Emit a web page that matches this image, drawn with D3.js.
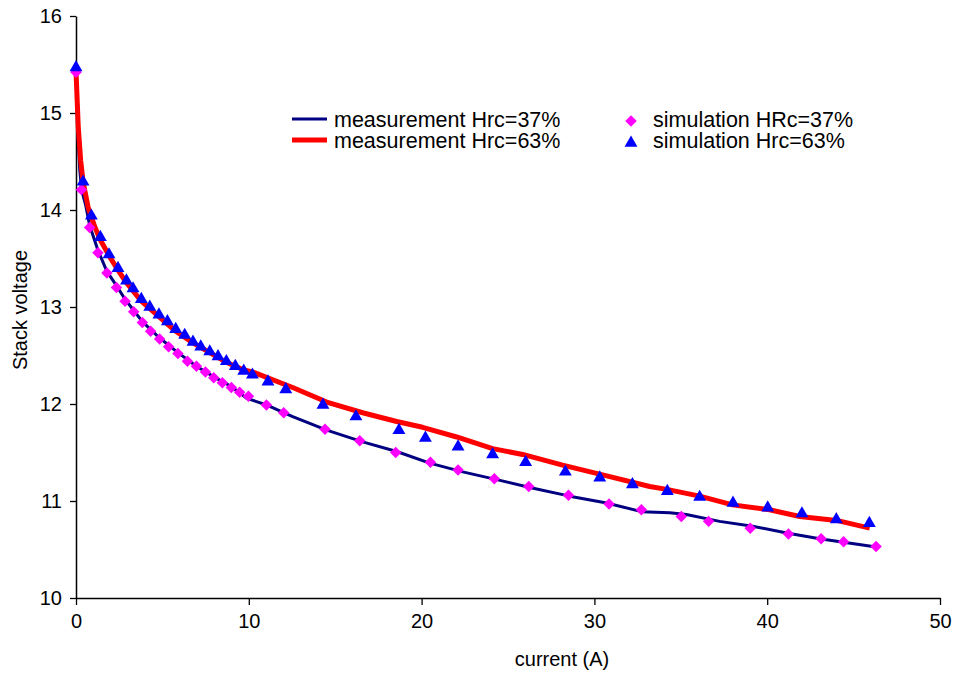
<!DOCTYPE html>
<html>
<head>
<meta charset="utf-8">
<script src="https://cdn.jsdelivr.net/npm/d3@7"></script>
<style>
  body { margin: 0; background: #fff; }
  text { font-family: Arial, "Liberation Sans", sans-serif; fill: #000; }
</style>
</head>
<body>
<svg id="chart" width="958" height="679"></svg>
<script>
'use strict';

//Values: [current (A), stack voltage (V)].
const meas37 = [
	[0, 15.42], [0.1, 14.82], [0.22, 14.41], [0.33, 14.20], [0.56, 14.05], [0.79, 13.84],
	[1.26, 13.59], [1.78, 13.37], [2.34, 13.22], [2.84, 13.08], [3.84, 12.85], [4.84, 12.68],
	[5.90, 12.53], [6.97, 12.39], [7.97, 12.28], [8.99, 12.18], [9.86, 12.06], [11.02, 11.99],
	[12.02, 11.91], [12.54, 11.87], [14.51, 11.73], [16.59, 11.61], [18.56, 11.51], [20.47, 11.39],
	[22.38, 11.30], [24.35, 11.22], [26.26, 11.14], [28.57, 11.05], [30.71, 10.98], [32.72, 10.89],
	[34.36, 10.88], [35.32, 10.86], [37.25, 10.79], [39.16, 10.74], [41.13, 10.67], [43.04, 10.61],
	[46.11, 10.53]
];
const meas63 = [
	[0, 15.43], [0.13, 14.86], [0.27, 14.51], [0.41, 14.29], [0.70, 14.03], [1.08, 13.83],
	[1.41, 13.69], [1.91, 13.53], [2.43, 13.38], [2.92, 13.25], [3.78, 13.06], [4.80, 12.90],
	[5.77, 12.75], [6.77, 12.63], [7.74, 12.53], [8.70, 12.43], [9.71, 12.35], [10.22, 12.33],
	[12.54, 12.17], [14.51, 12.02], [16.59, 11.91], [18.56, 11.82], [20.06, 11.76], [22.03, 11.66],
	[24.11, 11.54], [25.85, 11.48], [28.16, 11.37], [30.48, 11.27], [33.20, 11.15], [34.19, 11.12],
	[36.09, 11.05], [38.00, 10.96], [40.14, 10.91], [41.88, 10.84], [44.02, 10.80], [45.93, 10.72]
];
const sim37 = [
	[0, 15.42], [0.31, 14.21], [0.79, 13.82], [1.27, 13.56], [1.79, 13.35], [2.34, 13.20],
	[2.84, 13.06], [3.34, 12.95], [3.84, 12.84], [4.32, 12.75], [4.84, 12.67], [5.36, 12.59],
	[5.90, 12.52], [6.45, 12.44], [6.97, 12.39], [7.49, 12.33], [7.97, 12.27], [8.47, 12.22],
	[8.99, 12.17], [9.47, 12.12], [9.98, 12.08], [11.02, 11.99], [12.02, 11.91], [14.41, 11.74],
	[16.42, 11.62], [18.50, 11.50], [20.51, 11.40], [22.11, 11.32], [24.21, 11.23], [26.20, 11.15],
	[28.50, 11.06], [30.85, 10.97], [32.72, 10.91], [35.03, 10.84], [36.61, 10.79], [39.02, 10.72],
	[41.23, 10.66], [43.12, 10.61], [44.42, 10.58], [46.30, 10.53]
];
const sim63 = [
	[0, 15.47], [0.41, 14.29], [0.89, 13.94], [1.41, 13.72], [1.91, 13.54], [2.43, 13.40],
	[2.92, 13.27], [3.30, 13.19], [3.78, 13.08], [4.27, 13.00], [4.80, 12.92], [5.29, 12.85],
	[5.77, 12.77], [6.29, 12.71], [6.77, 12.64], [7.22, 12.59], [7.74, 12.54], [8.22, 12.49],
	[8.70, 12.44], [9.22, 12.39], [9.71, 12.34], [10.21, 12.30], [11.11, 12.23], [12.14, 12.15],
	[14.29, 11.99], [16.20, 11.87], [18.69, 11.73], [20.22, 11.65], [22.11, 11.56], [24.11, 11.48],
	[26.02, 11.40], [28.32, 11.30], [30.31, 11.24], [32.20, 11.17], [34.22, 11.10], [36.09, 11.04],
	[38.02, 10.98], [40.03, 10.93], [42.01, 10.87], [44.00, 10.81], [45.91, 10.77]
];
const xTicks = [0, 10, 20, 30, 40, 50];
const yTicks = [10, 11, 12, 13, 14, 15, 16];
const legendLabels = ['measurement Hrc=37%', 'measurement Hrc=63%', 'simulation HRc=37%', 'simulation Hrc=63%'];

const svg = d3.select('#chart');
const margin = {top: 16, left: 76};
const innerWidth = 864;
const innerHeight = 582;

const xScale = d3.scaleLinear().domain([0, 50]).range([0, innerWidth]);
const yScale = d3.scaleLinear().domain([10, 16]).range([innerHeight, 0]);

const g = svg.append('g').attr('transform', `translate(${margin.left}, ${margin.top})`);

//Axes.
const xAxis = d3.axisBottom(xScale).tickValues(xTicks).tickFormat(d3.format('d'))
	.tickSize(7).tickPadding(9).tickSizeOuter(0);
const yAxis = d3.axisLeft(yScale).tickValues(yTicks).tickFormat(d3.format('d'))
	.tickSize(6).tickPadding(8).tickSizeOuter(0);
const gx = g.append('g').attr('transform', `translate(0, ${innerHeight})`).call(xAxis);
const gy = g.append('g').call(yAxis);
[gx, gy].forEach((a) => {
	a.select('.domain').attr('stroke', '#000').attr('stroke-width', 1.5);
	a.selectAll('.tick line').attr('stroke', '#000').attr('stroke-width', 1.3);
	a.selectAll('.tick text').style('font-size', '20px').style('font-family', 'Arial, "Liberation Sans", sans-serif');
});

//Axis titles.
svg.append('text').attr('x', 562).attr('y', 666).attr('text-anchor', 'middle')
	.style('font-size', '20px').text('current (A)');
svg.append('text').attr('transform', 'translate(27, 310) rotate(-90)').attr('text-anchor', 'middle')
	.style('font-size', '20px').text('Stack voltage');

//Measurement lines.
const line = d3.line().x((d) => xScale(d[0])).y((d) => yScale(d[1]));
g.append('path').datum(meas37).attr('d', line)
	.attr('fill', 'none').attr('stroke', '#000080').attr('stroke-width', 3).attr('stroke-linejoin', 'round');
g.append('path').datum(meas63).attr('d', line)
	.attr('fill', 'none').attr('stroke', '#ff0000').attr('stroke-width', 5).attr('stroke-linejoin', 'round');

//Simulation markers.
const diamond = d3.symbol().type(d3.symbolSquare).size(66);
const triangle = d3.symbol().type(d3.symbolTriangle).size(72);
g.selectAll('path.sim37').data(sim37).enter().append('path')
	.attr('class', 'sim37')
	.attr('d', diamond)
	.attr('transform', (d) => `translate(${xScale(d[0])}, ${yScale(d[1])}) rotate(45)`)
	.attr('fill', '#ff00ff');
g.selectAll('path.sim63').data(sim63).enter().append('path')
	.attr('class', 'sim63')
	.attr('d', triangle)
	.attr('transform', (d) => `translate(${xScale(d[0])}, ${yScale(d[1])})`)
	.attr('fill', '#0000ff');

//Legend.
const leg = svg.append('g');
leg.append('line').attr('x1', 292).attr('x2', 327).attr('y1', 119).attr('y2', 119)
	.attr('stroke', '#000080').attr('stroke-width', 3);
leg.append('line').attr('x1', 292).attr('x2', 327).attr('y1', 140).attr('y2', 140)
	.attr('stroke', '#ff0000').attr('stroke-width', 5);
leg.append('path').attr('d', diamond).attr('transform', 'translate(631, 121) rotate(45)').attr('fill', '#ff00ff');
leg.append('path').attr('d', triangle).attr('transform', 'translate(631, 143)').attr('fill', '#0000ff');
const legPos = [[334, 127], [334, 148], [653, 127], [653, 148]];
legendLabels.forEach((t, i) => {
	leg.append('text').attr('x', legPos[i][0]).attr('y', legPos[i][1])
		.style('font-size', '21.5px').text(t);
});
</script>
</body>
</html>
